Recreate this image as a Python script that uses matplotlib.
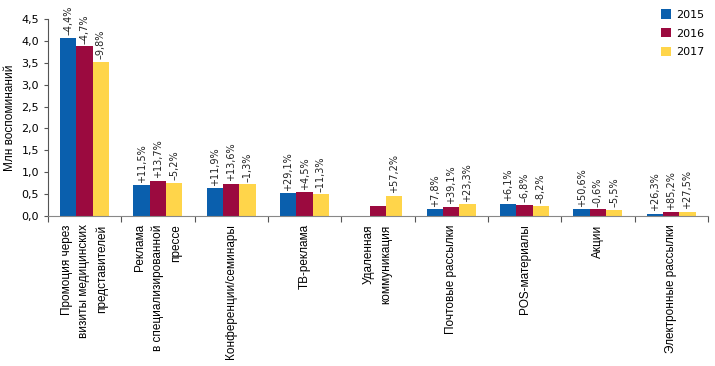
import numpy as np
import matplotlib.pyplot as plt

plt.rcParams['font.family'] = ['Liberation Sans', 'DejaVu Sans']

categories = ['Промоция через\nвизиты медицинских\nпредставителей',
              'Реклама\nв специализированной\nпрессе',
              'Конференции/семинары',
              'ТВ-реклама',
              'Удаленная\nкоммуникация',
              'Почтовые рассылки',
              'POS-материалы',
              'Акции',
              'Электронные рассылки']
years = ['2015', '2016', '2017']
v2015 = [4.07, 0.70, 0.63, 0.52, 0.0, 0.15, 0.28, 0.15, 0.05]
v2016 = [3.88, 0.80, 0.73, 0.54, 0.23, 0.21, 0.25, 0.15, 0.08]
v2017 = [3.52, 0.76, 0.72, 0.49, 0.46, 0.27, 0.23, 0.14, 0.10]
lab2015 = ['–4,4%', '+11,5%', '+11,9%', '+29,1%', '', '+7,8%', '+6,1%', '+50,6%', '+26,3%']
lab2016 = ['–4,7%', '+13,7%', '+13,6%', '+4,5%', '', '+39,1%', '–6,8%', '–0,6%', '+85,2%']
lab2017 = ['–9,8%', '–5,2%', '–1,3%', '–11,3%', '+57,2%', '+23,3%', '–8,2%', '–5,5%', '+27,5%']
colors = ['#0a5fad', '#9b0a3f', '#ffd54a']
wide = 'DejaVu Sans'

fig = plt.figure(figsize=(7.15, 3.66), dpi=100)
ax = fig.add_axes([0.067, 0.41, 0.923, 0.538])

x = np.arange(len(categories))
w = 0.222
series = [v2015, v2016, v2017]
labels = [lab2015, lab2016, lab2017]
for i in range(3):
    pos = x + (i - 1) * w
    ax.bar(pos, series[i], width=w, color=colors[i], label=years[i])
    for p, v, t in zip(pos, series[i], labels[i]):
        if t:
            ax.text(p, v + 0.06, t, rotation=90, ha='center', va='bottom',
                    fontsize=7, color='#222222', family=wide)

ax.set_xlim(-0.5, len(categories) - 0.5)
ax.set_ylim(0, 4.5)
ax.set_yticks(np.arange(0, 4.51, 0.5))
ax.set_yticklabels([f'{t:.1f}'.replace('.', ',') for t in np.arange(0, 4.51, 0.5)],
                   fontsize=8, family=wide)

# деления по границам групп, подписи по центрам
ax.set_xticks(np.arange(-0.5, len(categories), 1.0))
ax.set_xticklabels([])
ax.set_xticks(x, minor=True)
ax.set_xticklabels(categories, minor=True, rotation=90, fontsize=8.5,
                   va='top', ha='center', linespacing=1.6)
for lbl in ax.get_xticklabels(minor=True):
    lbl.set_multialignment('right')
ax.tick_params(axis='x', which='minor', length=0, pad=6)
ax.tick_params(axis='x', which='major', length=4, direction='out', color='#555555')
ax.tick_params(axis='y', length=3, color='#555555')

ax.spines['top'].set_visible(False)
ax.spines['right'].set_visible(False)
ax.spines['left'].set_color('#555555')
ax.spines['bottom'].set_color('#888888')

ax.set_ylabel('Млн воспоминаний', fontsize=8.5)

ax.legend(loc='upper right', bbox_to_anchor=(1.01, 1.1), frameon=False,
          prop={'family': wide, 'size': 8},
          handlelength=0.9, handleheight=0.9, handletextpad=0.5, labelspacing=0.75)

plt.savefig('out.png', dpi=100)
